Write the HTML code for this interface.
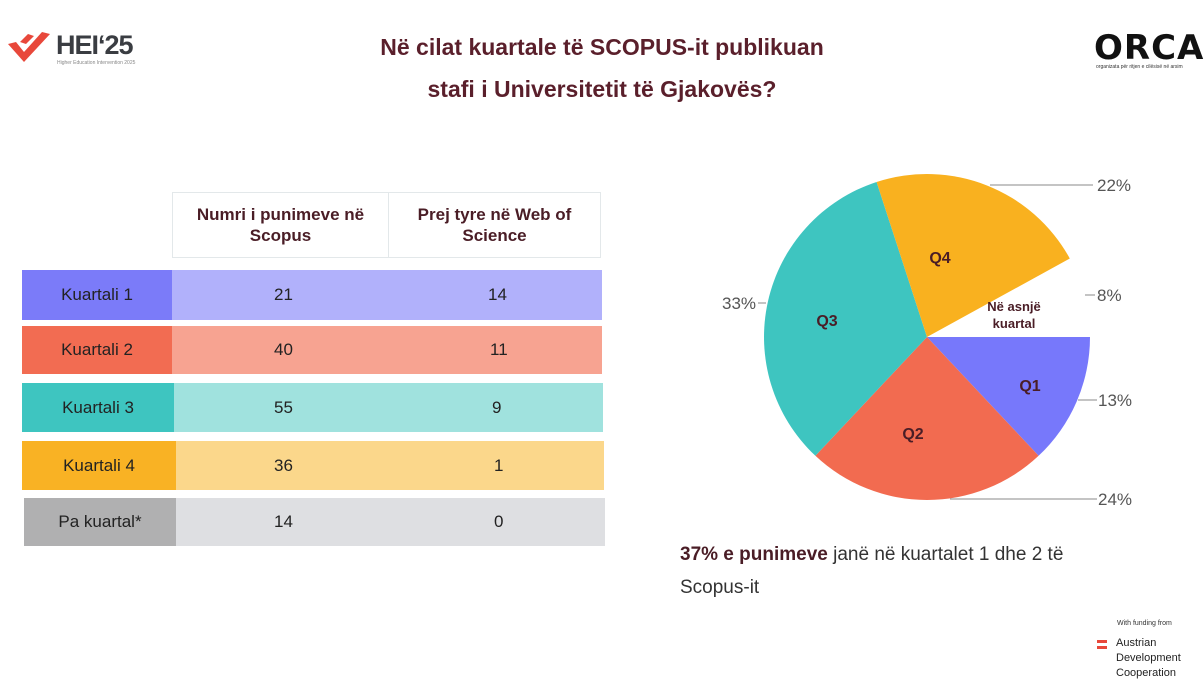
<!DOCTYPE html>
<html><head><meta charset="utf-8"><style>
body{margin:0;width:1204px;height:693px;background:#fff;font-family:"Liberation Sans",sans-serif;position:relative;overflow:hidden}
.a{position:absolute}
.title{left:0;width:1204px;text-align:center;color:#5a1f2b;font-weight:bold;font-size:23px;line-height:42px;top:26px}
.cell{position:absolute;display:flex;align-items:center;justify-content:center;font-size:17px;color:#222}
.hd{position:absolute;top:192px;height:66px;border:1px solid #e3e8ea;display:flex;align-items:center;justify-content:center;text-align:center;font-weight:bold;color:#4a1d26;font-size:17px;line-height:21px;box-sizing:border-box}
</style></head><body>
<div class="a title">Në cilat kuartale të SCOPUS-it publikuan<br>stafi i Universitetit të Gjakovës?</div>
<svg class="a" style="left:6px;top:30px" width="46" height="36" viewBox="0 0 46 36"><path d="M2 14 L18 32 L44 4 L36 2 L18 22 L10 12 Z" fill="#e8483b"/><path d="M14 12 L22 4 L28 6 L20 14Z" fill="#e8483b"/></svg>
<div class="a" style="left:56px;top:30px;font-size:27px;font-weight:bold;color:#3a3d42;letter-spacing:-1px">HEI‘25</div>
<div class="a" style="left:57px;top:60px;font-size:5px;color:#888">Higher Education Intervention 2025</div>
<div class="a" style="left:1094px;top:28px;font-size:34px;font-weight:900;color:#111;letter-spacing:1px;font-family:'DejaVu Sans',sans-serif">ORCA</div>
<div class="a" style="left:1096px;top:64px;font-size:5px;color:#333">organizata për ritjen e cilësisë në arsim</div>

<div class="hd" style="left:172px;width:217px">Numri i punimeve në<br>Scopus</div>
<div class="hd" style="left:388px;width:213px">Prej tyre në Web of<br>Science</div>

<div class="cell" style="left:22px;top:270px;width:150px;height:50px;background:#7b7bf9">Kuartali 1</div>
<div class="cell" style="left:172px;top:270px;width:430px;height:50px;background:#b1b1fb"><span style="position:absolute;left:102px">21</span><span style="position:absolute;left:316px">14</span></div>
<div class="cell" style="left:22px;top:326px;width:150px;height:48px;background:#f26c52">Kuartali 2</div>
<div class="cell" style="left:172px;top:326px;width:430px;height:48px;background:#f7a391"><span style="position:absolute;left:102px">40</span><span style="position:absolute;left:318px">11</span></div>
<div class="cell" style="left:22px;top:383px;width:152px;height:49px;background:#3ec5c0">Kuartali 3</div>
<div class="cell" style="left:174px;top:383px;width:429px;height:49px;background:#a0e2de"><span style="position:absolute;left:100px">55</span><span style="position:absolute;left:318px">9</span></div>
<div class="cell" style="left:22px;top:441px;width:154px;height:49px;background:#f9b224">Kuartali 4</div>
<div class="cell" style="left:176px;top:441px;width:428px;height:49px;background:#fbd78b"><span style="position:absolute;left:98px">36</span><span style="position:absolute;left:318px">1</span></div>
<div class="cell" style="left:24px;top:498px;width:152px;height:48px;background:#b0b0b1">Pa kuartal*</div>
<div class="cell" style="left:176px;top:498px;width:429px;height:48px;background:#dedfe2"><span style="position:absolute;left:98px">14</span><span style="position:absolute;left:318px">0</span></div>

<svg class="a" style="left:0;top:0" width="1204" height="693">
<g stroke="#888" stroke-width="1">
<line x1="990" y1="185" x2="1093" y2="185"/><line x1="1085" y1="295" x2="1095" y2="295"/>
<line x1="1078" y1="400" x2="1097" y2="400"/><line x1="950" y1="499" x2="1097" y2="499"/>
<line x1="758" y1="303" x2="766" y2="303"/></g>
<path d="M927 337 L1090 337 A163 163 0 0 1 1038.6 455.8Z" fill="#7778fb"/>
<path d="M927 337 L1038.6 455.8 A163 163 0 0 1 815.4 455.8Z" fill="#f26b50"/>
<path d="M927 337 L815.4 455.8 A163 163 0 0 1 876.6 182Z" fill="#3ec5c0"/>
<path d="M927 337 L876.6 182 A163 163 0 0 1 1069.8 258.5Z" fill="#f9b11f"/>
<g font-weight="bold" fill="#4a1d26" font-size="16" text-anchor="middle">
<text x="1030" y="391">Q1</text><text x="913" y="439">Q2</text><text x="827" y="326">Q3</text><text x="940" y="263">Q4</text>
<text x="1014" y="311" font-size="13">Në asnjë</text><text x="1014" y="328" font-size="13">kuartal</text></g>
<g font-size="17" fill="#555">
<text x="1097" y="191">22%</text><text x="1097" y="301">8%</text><text x="1098" y="406">13%</text><text x="1098" y="505">24%</text><text x="722" y="309">33%</text></g>
</svg>
<div class="a" style="left:680px;top:538px;font-size:19px;color:#333;line-height:33px"><b style="color:#4a1d26">37% e punimeve</b> janë në kuartalet 1 dhe 2 të<br>Scopus-it</div>
<div class="a" style="left:1117px;top:620px;font-size:7px;color:#333">With funding from</div>
<div class="a" style="left:1097px;top:640px;width:10px;height:3px;background:#e8483b"></div>
<div class="a" style="left:1097px;top:646px;width:10px;height:3px;background:#e8483b"></div>
<div class="a" style="left:1116px;top:636px;font-size:11px;color:#222;line-height:15px">Austrian<br>Development<br>Cooperation</div>
</body></html>
